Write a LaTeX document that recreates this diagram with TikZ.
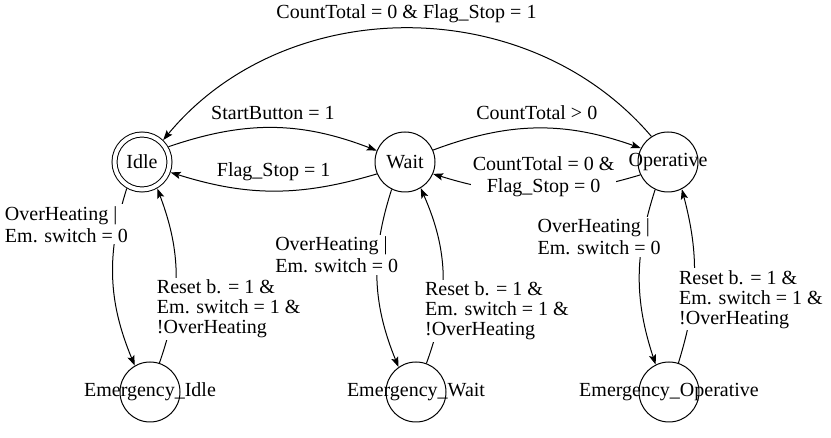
\documentclass[tikz,border=0pt]{standalone}
\usepackage{fontspec}
\setmainfont{LiberationSerif}[Extension=.ttf, UprightFont=*-Regular, BoldFont=*-Bold]
\usetikzlibrary{arrows.meta}
\tikzset{
  fsm/.style={circle, draw, line width=0.5pt, minimum size=30pt, inner sep=0pt},
  fsmd/.style={fsm, double, double distance=2pt, minimum size=27.5pt, outer sep=1.5pt},
  cond/.style={font=\rmfamily\fontsize{10}{11}\selectfont, fill=white, inner sep=1pt, align=left},
  condr/.style={cond, font=\rmfamily\fontsize{10}{10}\selectfont},
  link/.style={-{Stealth[length=5pt,width=3.6pt,inset=1pt]}, line width=0.5pt},
}

\begin{document}
\begin{tikzpicture}[x=0.5pt, y=-0.5pt, font=\rmfamily\fontsize{10}{11}\selectfont]
\useasboundingbox (0,0) rectangle (831,438);

% states
\node[fsmd] (idle) at (142,162) {Idle};
\node[fsm] (wait) at (405,162) {Wait};
\node[fsm] (oper) at (668,162) {\makebox[0pt]{Operative}};
\node[fsm] (eidle) at (150,392) {\makebox[0pt]{Emergency\_Idle}};
\node[fsm] (ewait) at (416,392) {\makebox[0pt]{Emergency\_Wait}};
\node[fsm] (eoper) at (669,392) {\makebox[0pt]{Emergency\_Operative}};

% transitions along the top row
\draw[link] (idle.30) to[bend left=20]
  node[cond, above=3pt] {StartButton = 1} (wait.158);
\draw[link] (wait.203) to[bend left=17]
  node[cond, above=4pt] {Flag\_Stop = 1} (idle.-20);
\draw[link] (wait.23) to[bend left=20]
  node[cond, above=3pt] {CountTotal > 0} (oper.153);
\draw[link] (oper.205) to[bend left=17]
  node[cond, align=center, yshift=7.5pt, xshift=3.5pt] {CountTotal = 0 \&\\Flag\_Stop = 0} (wait.-23);
\draw[link] (oper.123) to[bend right=50]
  node[cond, above=1.5pt] {CountTotal = 0 \& Flag\_Stop = 1} (idle.46);

% emergency transitions
\draw[link] (idle.-120) to[bend right=20]
  node[cond, pos=0.19, anchor=east, xshift=6.5pt] {OverHeating |\\Em. switch = 0} (eidle.120);
\draw[link] (eidle.72) to[bend right=20]
  node[condr, pos=0.3, anchor=west, xshift=-9.5pt] {Reset b. = 1 \&\\Em. switch = 1 \&\\!OverHeating} (idle.-60);
\draw[link] (wait.-116) to[bend right=20]
  node[cond, pos=0.36, anchor=east, xshift=11.5pt] {OverHeating |\\Em. switch = 0} (ewait.125);
\draw[link] (ewait.70) to[bend right=22]
  node[condr, pos=0.29, anchor=west, xshift=-9pt] {Reset b. = 1 \&\\Em. switch = 1 \&\\!OverHeating} (wait.-59);
\draw[link] (oper.-115) to[bend right=18]
  node[cond, pos=0.26, anchor=east, xshift=10pt] {OverHeating |\\Em. switch = 0} (eoper.116);
\draw[link] (eoper.72) to[bend right=16]
  node[condr, pos=0.36, anchor=west, xshift=-8pt] {Reset b. = 1 \&\\Em. switch = 1 \&\\!OverHeating} (oper.-63);
\end{tikzpicture}
\end{document}
